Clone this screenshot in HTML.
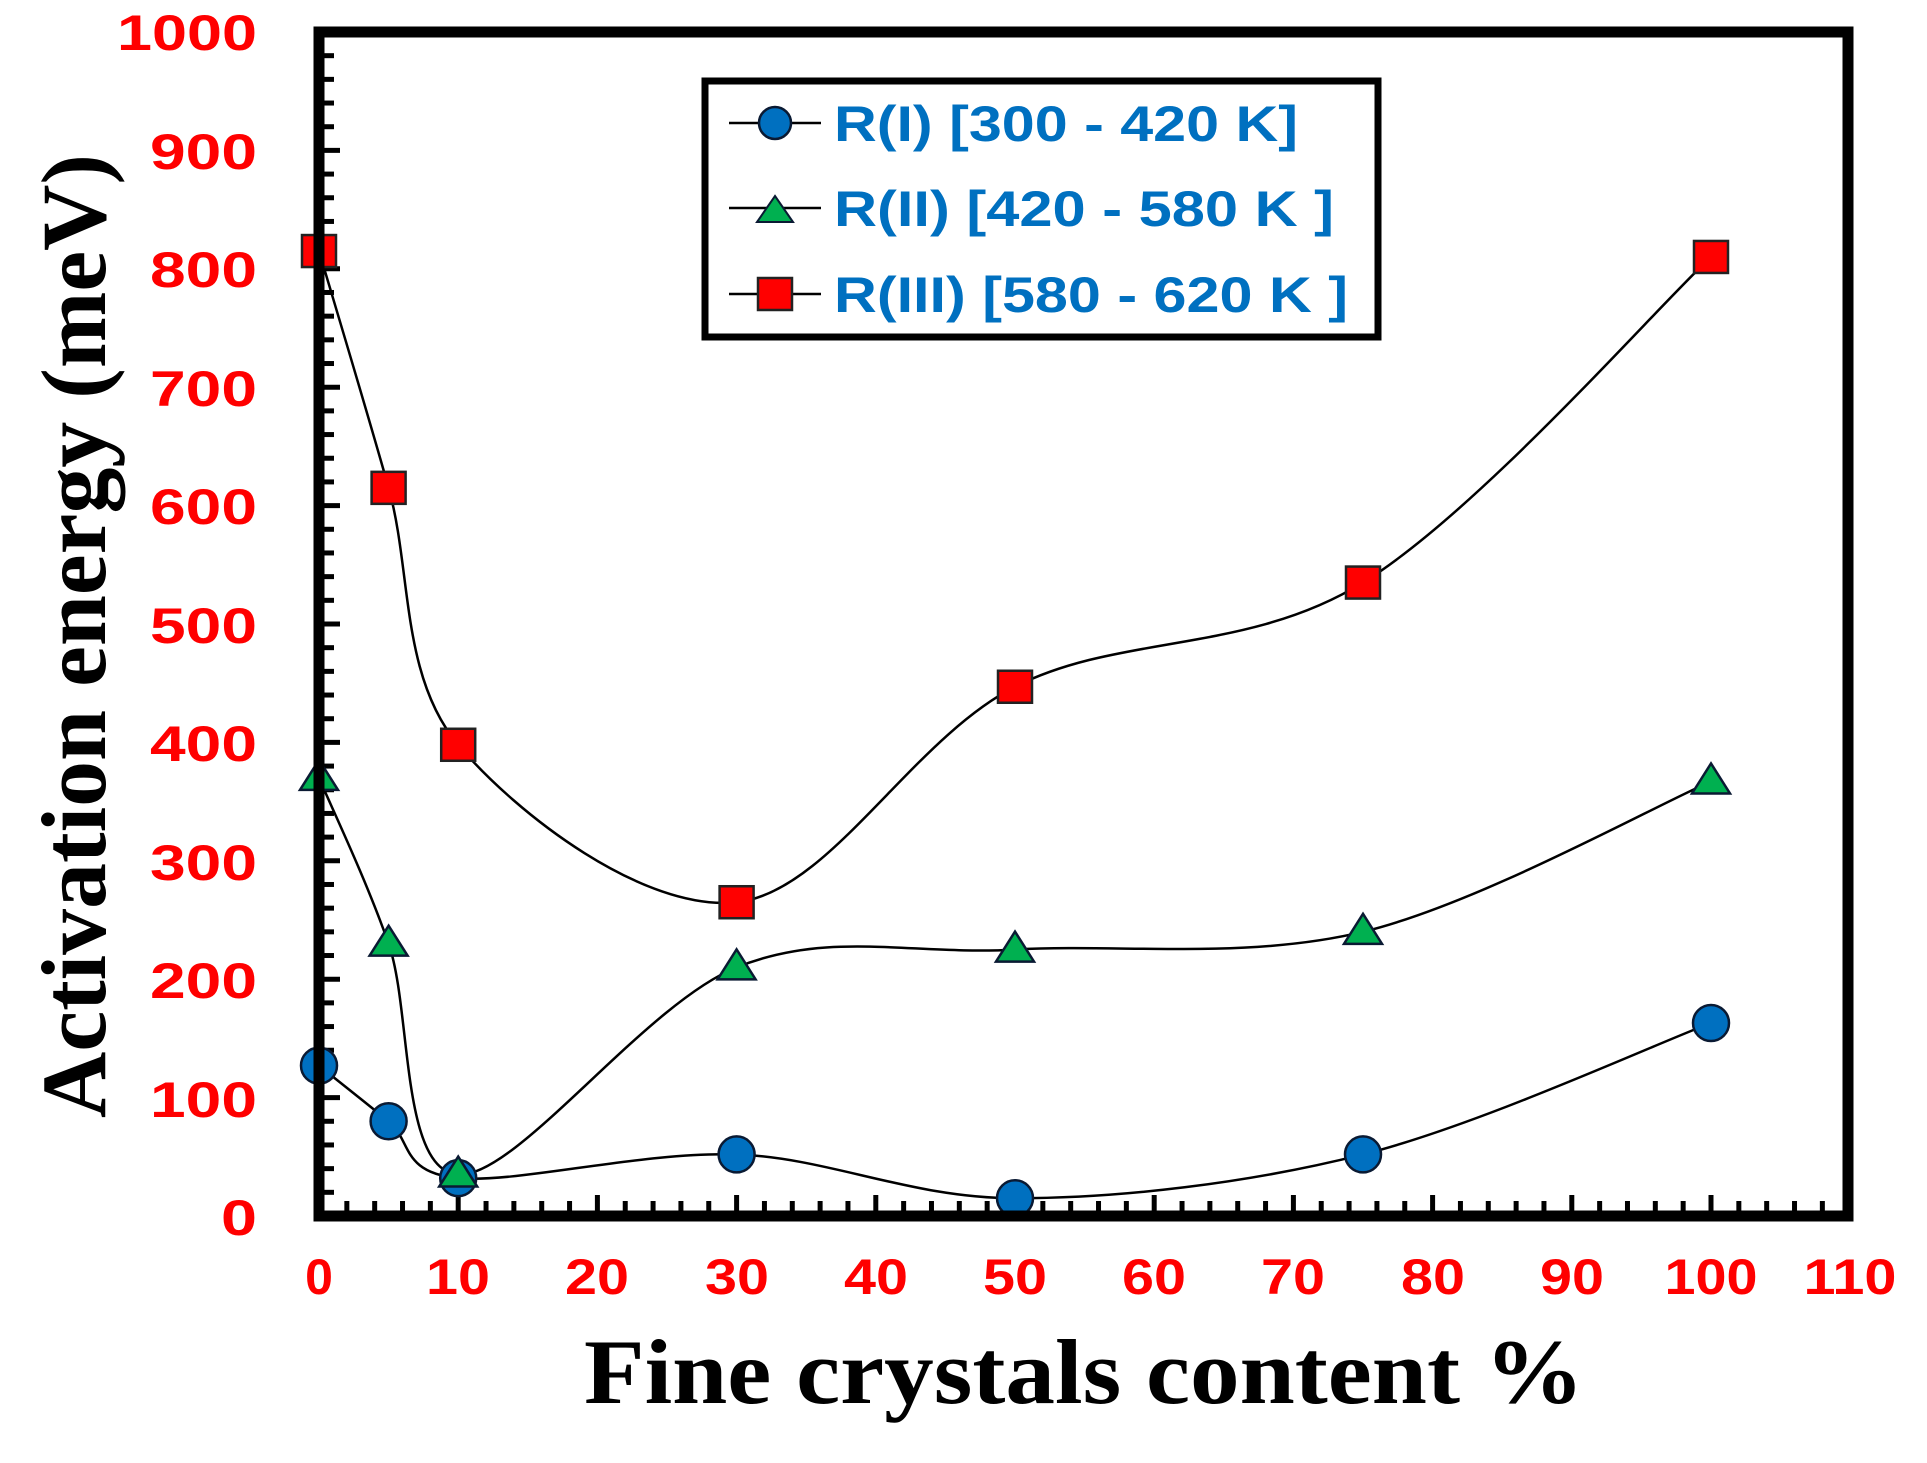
<!DOCTYPE html>
<html><head><meta charset="utf-8"><style>
html,body{margin:0;padding:0;background:#fff}
svg{display:block}
.yl{font-family:"Liberation Sans",Arial,sans-serif;font-weight:bold;font-size:50px;fill:#ff0000}
.xl{font-family:"Liberation Sans",Arial,sans-serif;font-weight:bold;font-size:50px;fill:#ff0000}
.lg{font-family:"Liberation Sans",Arial,sans-serif;font-weight:bold;font-size:50px;fill:#0070c0}
.ti{font-family:"Liberation Serif","Times New Roman",serif;font-weight:bold;font-size:92px;fill:#000}
</style></head><body>
<svg id="s" width="1927" height="1463" viewBox="0 0 1927 1463" xmlns="http://www.w3.org/2000/svg">
<g id="ticks" stroke="#000" stroke-width="5"></g>
<g id="curves" fill="none" stroke="#000" stroke-width="2.5"></g>
<g id="marks" stroke="#0a1a33" stroke-width="2.5"></g>
<rect x="319" y="32" width="1529" height="1184" fill="none" stroke="#000" stroke-width="11"/>
<!-- y labels -->
<g class="yl" text-anchor="end">
<text x="257" y="50" textLength="140" lengthAdjust="spacingAndGlyphs">1000</text>
<text x="257" y="169" textLength="107" lengthAdjust="spacingAndGlyphs">900</text>
<text x="257" y="287" textLength="107" lengthAdjust="spacingAndGlyphs">800</text>
<text x="257" y="406" textLength="107" lengthAdjust="spacingAndGlyphs">700</text>
<text x="257" y="524" textLength="107" lengthAdjust="spacingAndGlyphs">600</text>
<text x="257" y="643" textLength="107" lengthAdjust="spacingAndGlyphs">500</text>
<text x="257" y="761" textLength="107" lengthAdjust="spacingAndGlyphs">400</text>
<text x="257" y="880" textLength="107" lengthAdjust="spacingAndGlyphs">300</text>
<text x="257" y="998" textLength="107" lengthAdjust="spacingAndGlyphs">200</text>
<text x="257" y="1117" textLength="107" lengthAdjust="spacingAndGlyphs">100</text>
<text x="257" y="1235" textLength="36" lengthAdjust="spacingAndGlyphs">0</text>
</g>
<!-- x labels -->
<g class="xl" text-anchor="middle">
<text x="319" y="1294">0</text>
<text x="458" y="1294" textLength="64" lengthAdjust="spacingAndGlyphs">10</text>
<text x="597" y="1294" textLength="64" lengthAdjust="spacingAndGlyphs">20</text>
<text x="737" y="1294" textLength="64" lengthAdjust="spacingAndGlyphs">30</text>
<text x="876" y="1294" textLength="64" lengthAdjust="spacingAndGlyphs">40</text>
<text x="1015" y="1294" textLength="64" lengthAdjust="spacingAndGlyphs">50</text>
<text x="1154" y="1294" textLength="64" lengthAdjust="spacingAndGlyphs">60</text>
<text x="1293" y="1294" textLength="64" lengthAdjust="spacingAndGlyphs">70</text>
<text x="1433" y="1294" textLength="64" lengthAdjust="spacingAndGlyphs">80</text>
<text x="1572" y="1294" textLength="64" lengthAdjust="spacingAndGlyphs">90</text>
<text x="1711" y="1294" textLength="93" lengthAdjust="spacingAndGlyphs">100</text>
<text x="1850" y="1294" textLength="93" lengthAdjust="spacingAndGlyphs">110</text>
</g>
<text class="ti" x="584" y="1403" textLength="1000" lengthAdjust="spacingAndGlyphs">Fine crystals content %</text>
<text class="ti" transform="translate(105,1118) rotate(-90)" x="0" y="0" textLength="964" lengthAdjust="spacingAndGlyphs">Activation energy (meV)</text>
<!-- legend -->
<rect x="705" y="81" width="673" height="256" fill="#fff" stroke="#000" stroke-width="7"/>
<g stroke="#000" stroke-width="2.5">
<line x1="729" y1="123" x2="821" y2="123"/>
<line x1="729" y1="208" x2="821" y2="208"/>
<line x1="729" y1="294" x2="821" y2="294"/>
</g>
<circle cx="775" cy="123" r="16" fill="#0070c0" stroke="#0a1a33" stroke-width="2.5"/>
<polygon points="775,196 793,222 757,222" fill="#00b050" stroke="#0a1a33" stroke-width="2"/>
<rect x="758" y="278" width="34" height="32" fill="#ff0000" stroke="#222" stroke-width="2.5"/>
<g class="lg">
<text x="834" y="141" textLength="464" lengthAdjust="spacingAndGlyphs">R(I) [300 - 420 K]</text>
<text x="834" y="226" textLength="500" lengthAdjust="spacingAndGlyphs">R(II) [420 - 580 K ]</text>
<text x="834" y="312" textLength="514" lengthAdjust="spacingAndGlyphs">R(III) [580 - 620 K ]</text>
</g>
</svg>
<script>
(function(){
var NS="http://www.w3.org/2000/svg";
function X(v){return 319+13.92*v;}
function Y(v){return 1216-1.184*v;}
var tk=document.getElementById('ticks');
function line(g,x1,y1,x2,y2){var l=document.createElementNS(NS,'line');l.setAttribute('x1',x1);l.setAttribute('y1',y1);l.setAttribute('x2',x2);l.setAttribute('y2',y2);g.appendChild(l);}
for(var v=0;v<=1000;v+=20){var L=(v%100==0)?16:10;line(tk,319,Y(v),319+5+L,Y(v));}
for(var u=0;u<=110;u+=2){var L2=(u%10==0)?16:10;line(tk,X(u),1216,X(u),1216-5-L2);}
var xs=[0,5,10,30,50,75,100];
var S=[
 {d:[127,80,32,52,15,52,163],t:'c'},
 {d:[370,230,35,210,225,240,367],t:'t'},
 {d:[815,615,398,265,447,535,810],t:'s'}];
var cv=document.getElementById('curves'),mk=document.getElementById('marks');
S.forEach(function(s){
 var p=xs.map(function(x,i){return [X(x),Y(s.d[i])];});
 var d='M'+p[0][0]+','+p[0][1];
 for(var i=0;i<p.length-1;i++){
  var p0=p[i-1]||p[i],p1=p[i],p2=p[i+1],p3=p[i+2]||p[i+1];
  var t=6;
  var c1=[p1[0]+(p2[0]-p0[0])/t,p1[1]+(p2[1]-p0[1])/t];
  var c2=[p2[0]-(p3[0]-p1[0])/t,p2[1]-(p3[1]-p1[1])/t];
  d+=' C'+c1[0]+','+c1[1]+' '+c2[0]+','+c2[1]+' '+p2[0]+','+p2[1];
 }
 var pa=document.createElementNS(NS,'path');pa.setAttribute('d',d);cv.appendChild(pa);
 p.forEach(function(q){
  var e;
  if(s.t=='c'){e=document.createElementNS(NS,'circle');e.setAttribute('cx',q[0]);e.setAttribute('cy',q[1]);e.setAttribute('r',18);e.setAttribute('fill','#0070c0');}
  else if(s.t=='t'){e=document.createElementNS(NS,'polygon');e.setAttribute('points',q[0]+','+(q[1]-18)+' '+(q[0]+19)+','+(q[1]+12)+' '+(q[0]-19)+','+(q[1]+12));e.setAttribute('fill','#00b050');}
  else {e=document.createElementNS(NS,'rect');e.setAttribute('x',q[0]-17);e.setAttribute('y',q[1]-16);e.setAttribute('width',34);e.setAttribute('height',32);e.setAttribute('fill','#ff0000');e.setAttribute('stroke','#222');}
  mk.appendChild(e);
 });
});
})();
</script>
</body></html>
